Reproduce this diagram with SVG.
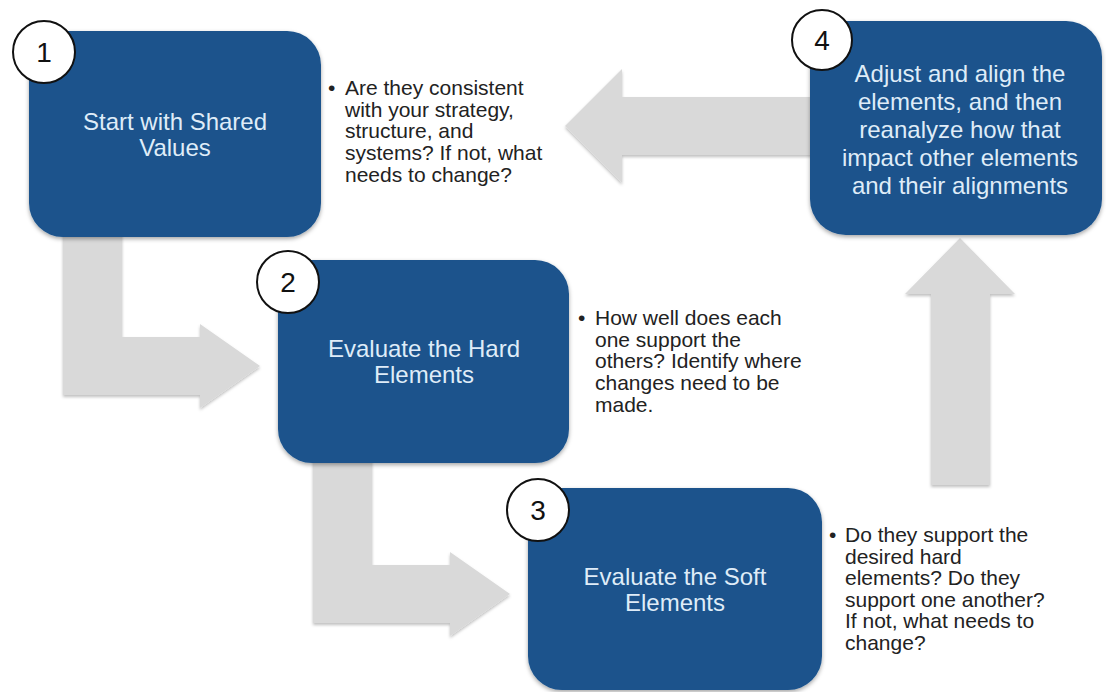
<svg xmlns="http://www.w3.org/2000/svg" width="1106" height="692" viewBox="0 0 1106 692">
  <defs>
    <filter id="shadow" x="-10%" y="-10%" width="120%" height="125%">
      <feDropShadow dx="0" dy="2" stdDeviation="2" flood-color="#000" flood-opacity="0.35"/>
    </filter>
    <filter id="ashadow" x="-10%" y="-10%" width="120%" height="125%">
      <feDropShadow dx="0" dy="2" stdDeviation="1.5" flood-color="#000" flood-opacity="0.25"/>
    </filter>
  </defs>
  <style>
    .box { fill: #1a528c; filter: url(#shadow); }
    .badge { fill: #ffffff; stroke: #111111; stroke-width: 2; }
    .num { font-family: "Liberation Sans", Arial, sans-serif; font-size: 28px; fill: #111111; text-anchor: middle; }
    .title { font-family: "Liberation Sans", Arial, sans-serif; font-size: 24px; fill: #dfecf8; text-anchor: middle; }
    .note { font-family: "Liberation Sans", Arial, sans-serif; font-size: 21px; fill: #222222; }
    .arrow { fill: #d9d9d9; filter: url(#ashadow); }
  </style>
  <rect width="1106" height="692" fill="#ffffff"/>

  <g id="connectors">
    <path class="arrow" d="M63,230 L122,230 L122,337 L200,337 L200,324 L260,366 L200,408 L200,395 L63,395 Z"/>
    <path class="arrow" d="M313,458 L372,458 L372,565 L450,565 L450,552 L510,594 L450,636 L450,623 L313,623 Z"/>
    <path class="arrow" d="M931,485 L990,485 L990,294 L1015,294 L960,238 L905,294 L931,294 Z"/>
    <path class="arrow" d="M830,97 L622,97 L622,69 L565,126 L622,183 L622,155 L830,155 Z"/>
  </g>

  <g id="node1">
    <rect class="box" x="29" y="31" width="292" height="206" rx="34" ry="34"/>
    <text class="title" x="175" y="130">Start with Shared</text>
    <text class="title" x="175" y="156">Values</text>
    <circle class="badge" cx="44" cy="52" r="31"/>
    <text class="num" x="44" y="62">1</text>
  </g>

  <g id="note1">
    <text class="note" x="328" y="95">•</text>
    <text class="note" x="345" y="95">Are they consistent</text>
    <text class="note" x="345" y="116.7">with your strategy,</text>
    <text class="note" x="345" y="138.4">structure, and</text>
    <text class="note" x="345" y="160.1">systems? If not, what</text>
    <text class="note" x="345" y="181.8">needs to change?</text>
  </g>

  <g id="node2">
    <rect class="box" x="278" y="260" width="291" height="203" rx="34" ry="34"/>
    <text class="title" x="424" y="357">Evaluate the Hard</text>
    <text class="title" x="424" y="383">Elements</text>
    <circle class="badge" cx="288" cy="282" r="31"/>
    <text class="num" x="288" y="292">2</text>
  </g>

  <g id="note2">
    <text class="note" x="578" y="325">•</text>
    <text class="note" x="595" y="325">How well does each</text>
    <text class="note" x="595" y="346.7">one support the</text>
    <text class="note" x="595" y="368.4">others? Identify where</text>
    <text class="note" x="595" y="390.1">changes need to be</text>
    <text class="note" x="595" y="411.8">made.</text>
  </g>

  <g id="node3">
    <rect class="box" x="528" y="488" width="294" height="202" rx="34" ry="34"/>
    <text class="title" x="675" y="585">Evaluate the Soft</text>
    <text class="title" x="675" y="611">Elements</text>
    <circle class="badge" cx="538" cy="510" r="31"/>
    <text class="num" x="538" y="520">3</text>
  </g>

  <g id="note3">
    <text class="note" x="829" y="542">•</text>
    <text class="note" x="845" y="542">Do they support the</text>
    <text class="note" x="845" y="563.5">desired hard</text>
    <text class="note" x="845" y="585">elements? Do they</text>
    <text class="note" x="845" y="606.5">support one another?</text>
    <text class="note" x="845" y="628">If not, what needs to</text>
    <text class="note" x="845" y="649.5">change?</text>
  </g>

  <g id="node4">
    <rect class="box" x="810" y="21" width="292" height="214" rx="36" ry="36"/>
    <text class="title" x="960" y="82">Adjust and align the</text>
    <text class="title" x="960" y="110">elements, and then</text>
    <text class="title" x="960" y="138">reanalyze how that</text>
    <text class="title" x="960" y="166">impact other elements</text>
    <text class="title" x="960" y="194">and their alignments</text>
    <circle class="badge" cx="822" cy="40" r="30"/>
    <text class="num" x="822" y="50">4</text>
  </g>
</svg>
